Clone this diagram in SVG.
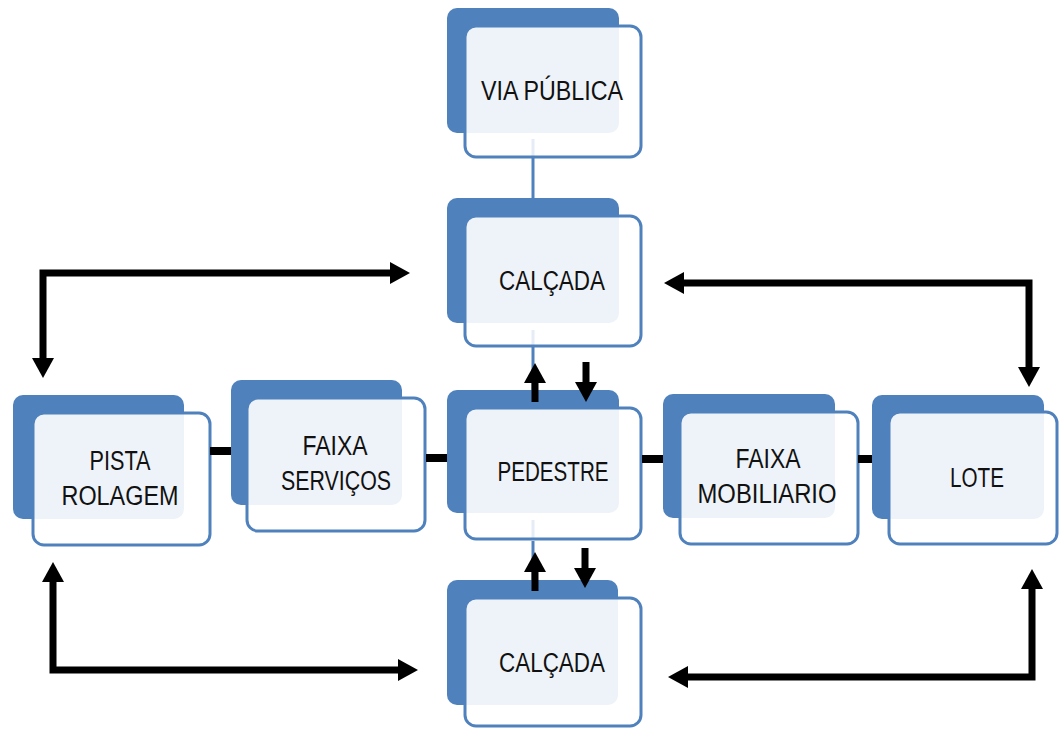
<svg xmlns="http://www.w3.org/2000/svg" width="1060" height="729" viewBox="0 0 1060 729">
<style>
.back{fill:#4f81bd}
.front{fill:#ffffff;fill-opacity:0.9;stroke:#4f81bd;stroke-width:3}
.lbl{font-family:"Liberation Sans",Arial,sans-serif;font-size:27px;fill:#111;text-anchor:middle}
.vline{stroke:#4f81bd;stroke-width:3;fill:none}
.faint{stroke:#4f81bd;stroke-width:3;stroke-opacity:0.15;fill:none}
.bar{stroke:#000;stroke-width:8;fill:none}
.arr{stroke:#000;stroke-width:7;fill:none;marker-end:url(#head)}
.arr2{stroke:#000;stroke-width:7;fill:none;stroke-linejoin:miter;marker-start:url(#head);marker-end:url(#head)}
</style>
<defs>
<marker id="head" markerUnits="userSpaceOnUse" markerWidth="22" markerHeight="24" refX="0" refY="11" orient="auto-start-reverse" overflow="visible">
<path d="M0,0 L20,11 L0,22 Z" fill="#000"/>
</marker>
</defs>
<rect width="1060" height="729" fill="#fff"/>
<g id="via-publica">
<rect class="back" x="447" y="8" width="172" height="125" rx="10"/>
<rect class="front" x="465" y="26" width="176" height="131" rx="11"/>
<text class="lbl" x="552" y="100" textLength="142" lengthAdjust="spacingAndGlyphs">VIA PÚBLICA</text>
</g>
<g id="calcada-top">
<rect class="back" x="447" y="198" width="172" height="125" rx="10"/>
<rect class="front" x="465" y="216" width="176" height="130" rx="11"/>
<text class="lbl" x="552" y="290" textLength="106" lengthAdjust="spacingAndGlyphs">CALÇADA</text>
</g>
<g id="pedestre">
<rect class="back" x="447" y="390" width="172" height="123" rx="10"/>
<rect class="front" x="465" y="408" width="176" height="131" rx="11"/>
<text class="lbl" x="553" y="481" textLength="111" lengthAdjust="spacingAndGlyphs">PEDESTRE</text>
</g>
<g id="calcada-bottom">
<rect class="back" x="447" y="580" width="171" height="125" rx="10"/>
<rect class="front" x="465" y="598" width="176" height="128" rx="11"/>
<text class="lbl" x="552" y="672" textLength="106" lengthAdjust="spacingAndGlyphs">CALÇADA</text>
</g>
<g id="pista-rolagem">
<rect class="back" x="13" y="395" width="171" height="124" rx="10"/>
<rect class="front" x="33" y="413" width="177" height="132" rx="11"/>
<text class="lbl" x="120" y="470" textLength="61" lengthAdjust="spacingAndGlyphs">PISTA</text>
<text class="lbl" x="120" y="505" textLength="117" lengthAdjust="spacingAndGlyphs">ROLAGEM</text>
</g>
<g id="faixa-servicos">
<rect class="back" x="231" y="380" width="171" height="125" rx="10"/>
<rect class="front" x="247" y="398" width="178" height="133" rx="11"/>
<text class="lbl" x="335" y="455" textLength="65" lengthAdjust="spacingAndGlyphs">FAIXA</text>
<text class="lbl" x="336" y="490" textLength="110" lengthAdjust="spacingAndGlyphs">SERVIÇOS</text>
</g>
<g id="faixa-mobiliario">
<rect class="back" x="663" y="394" width="172" height="124" rx="10"/>
<rect class="front" x="680" y="412" width="178" height="132" rx="11"/>
<text class="lbl" x="768" y="468" textLength="65" lengthAdjust="spacingAndGlyphs">FAIXA</text>
<text class="lbl" x="767" y="503" textLength="139" lengthAdjust="spacingAndGlyphs">MOBILIARIO</text>
</g>
<g id="lote">
<rect class="back" x="872" y="395" width="172" height="124" rx="10"/>
<rect class="front" x="889" y="412" width="168" height="132" rx="11"/>
<text class="lbl" x="977" y="487" textLength="54" lengthAdjust="spacingAndGlyphs">LOTE</text>
</g>
<g id="connectors">
<path class="faint" d="M533,139 V157 M533,330 V346 M533,520 V539"/>
<path class="vline" d="M533,158 V198 M533,347 V390 M533,541 V580"/>
<path class="bar" d="M210,451 H231 M426,458 H447 M642,459 H663 M858,459 H872"/>
<path class="arr" d="M535,402 V383"/>
<path class="arr" d="M586,362 V382"/>
<path class="arr" d="M535,591 V572"/>
<path class="arr" d="M585,548 V568"/>
<path class="arr2" d="M390,273 H43 V358"/>
<path class="arr2" d="M684,283 H1029 V367"/>
<path class="arr2" d="M53,582 V670 H398"/>
<path class="arr2" d="M688,677 H1032 V589"/>
</g>
</svg>
